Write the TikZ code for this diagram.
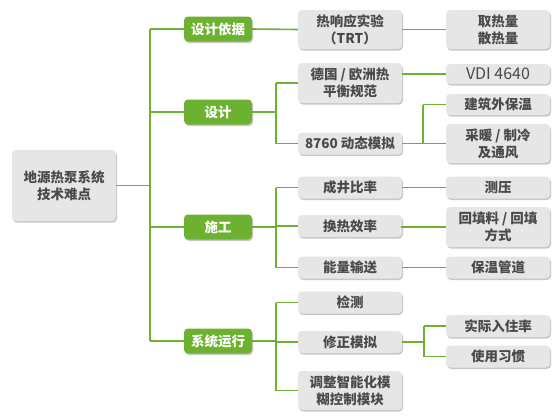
\documentclass[tikz,border=0pt]{standalone}
\usepackage{fontspec}
\setmainfont{Noto Sans CJK SC}
\usetikzlibrary{shadows}
\definecolor{grn}{HTML}{6CB230}
\definecolor{boxg}{HTML}{E6E6E6}
\definecolor{txt}{HTML}{4A4A4A}
\begin{document}
\begin{tikzpicture}[x=1pt,y=-1pt,
  base/.style={rounded corners=4pt, align=center, inner sep=0pt,
    font=\fontsize{13.5}{17}\selectfont\bfseries,
    drop shadow={shadow xshift=1pt,shadow yshift=-1.5pt,fill=black,opacity=0.22}},
  gbox/.style={base, fill=boxg, text=txt, minimum width=104pt, minimum height=22pt},
  lbox/.style={base, fill=grn, text=white, minimum width=68pt, minimum height=25pt},
  rootbox/.style={base, fill=boxg, text=txt, minimum width=104pt, minimum height=71pt},
  link/.style={draw=grn, line width=1.6pt}]
\useasboundingbox (0,0) rectangle (560,416);
\fill[white] (0,0) rectangle (560,416);

% root
\node[rootbox] (root) at (64,185.5) {地源热泵系统\\技术难点};

% level 1
\node[lbox] (l1) at (218,29) {设计依据};
\node[lbox] (l2) at (218,112) {设计};
\node[lbox] (l3) at (218,227) {施工};
\node[lbox] (l4) at (218,341) {系统运行};

% level 2
\node[gbox, minimum height=39pt] (a1) at (350,29.5) {热响应实验\\（TRT）};
\node[gbox, minimum height=40pt] (a2) at (350,83) {德国 / 欧洲热\\平衡规范};
\node[gbox] (a3) at (350,143.5) {8760 动态模拟};
\node[gbox] (a4) at (350,187.5) {成井比率};
\node[gbox] (a5) at (350,226) {换热效率};
\node[gbox] (a6) at (350,267.5) {能量输送};
\node[gbox] (a7) at (350,302.5) {检测};
\node[gbox] (a8) at (350,342) {修正模拟};
\node[gbox, minimum height=39pt] (a9) at (350,390.5) {调整智能化模\\糊控制模块};

% level 3
\node[gbox, minimum height=39pt] (b1) at (498,29.5) {取热量\\散热量};
\node[gbox, minimum height=20pt, font=\fontsize{16}{18}\selectfont] (b2) at (498,74) {VDI 4640};
\node[gbox, minimum height=21pt] (b3) at (498,104.5) {建筑外保温};
\node[gbox, minimum height=39pt] (b4) at (498,143.5) {采暖 / 制冷\\及通风};
\node[gbox] (b5) at (498,187.5) {测压};
\node[gbox, minimum height=40pt] (b6) at (498,227) {回填料 / 回填\\方式};
\node[gbox] (b7) at (498,267.5) {保温管道};
\node[gbox] (b8) at (498,326) {实际入住率};
\node[gbox] (b9) at (498,356.5) {使用习惯};

% trunk coordinates
\coordinate (t1) at (150,0);
\coordinate (t2) at (276,0);
\coordinate (f1) at (423,0);
\coordinate (f2) at (424,0);

% root to level 1
\draw[link] (root.east) -- (root.east -| t1);
\draw[link] (t1 |- l1) -- (t1 |- l4);
\foreach \n in {l1,l2,l3,l4} \draw[link] (t1 |- \n) -- (\n.west);

% design basis
\draw[link] (l1.east) -- (a1.west);
\draw[link] (a1.east) -- (b1.west);

% design
\draw[link] (l2.east) -- (l2.east -| t2);
\draw[link] (t2 |- a2) -- (t2 |- a3);
\draw[link] (t2 |- a2) -- (a2.west);
\draw[link] (t2 |- a3) -- (a3.west);
\draw[link] (a2.east |- b2) -- (b2.west);
\draw[link] (a3.east) -- (a3.east -| f1);
\draw[link] (f1 |- b3) -- (f1 |- b4);
\draw[link] (f1 |- b3) -- (b3.west);
\draw[link] (f1 |- b4) -- (b4.west);

% construction
\draw[link] (l3.east) -- (l3.east -| t2);
\draw[link] (t2 |- a4) -- (t2 |- a6);
\foreach \n in {a4,a5,a6} \draw[link] (t2 |- \n) -- (\n.west);
\draw[link] (a4.east) -- (b5.west);
\draw[link] (a5.east) -- (a5.east |- b6) -- (b6.west);
\draw[link] (a6.east) -- (b7.west);

% operation
\draw[link] (l4.east) -- (l4.east -| t2);
\draw[link] (t2 |- a7) -- (t2 |- a9);
\foreach \n in {a7,a8,a9} \draw[link] (t2 |- \n) -- (\n.west);
\draw[link] (a8.east) -- (a8.east -| f2);
\draw[link] (f2 |- b8) -- (f2 |- b9);
\draw[link] (f2 |- b8) -- (b8.west);
\draw[link] (f2 |- b9) -- (b9.west);
\end{tikzpicture}
\end{document}
